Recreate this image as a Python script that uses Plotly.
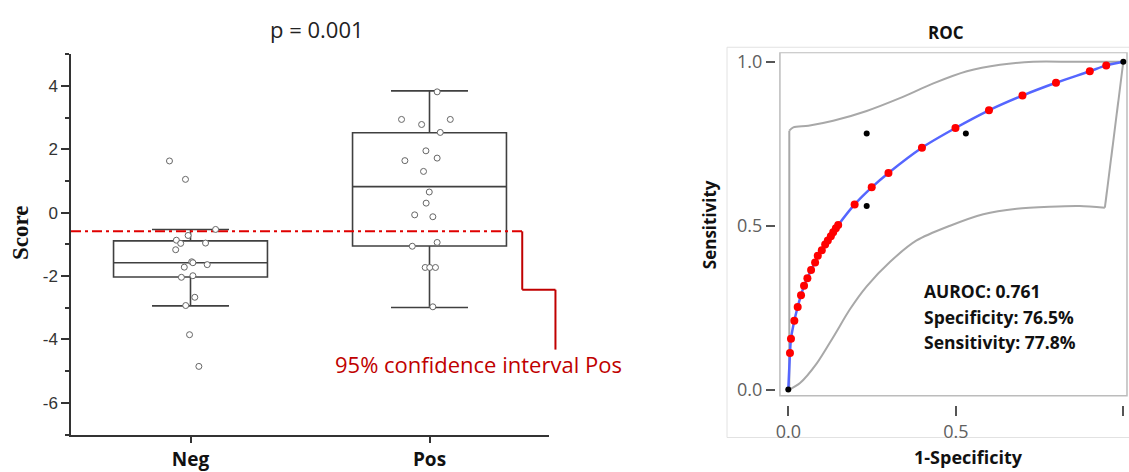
import plotly.graph_objects as go

# ---------------- data: left box plot ----------------
categories = ["Neg", "Pos"]
neg_scores = [1.63, 1.05, -0.53, -0.72, -0.87, -0.97, -0.96, -1.17, -1.55, -1.58,
              -1.64, -1.72, -2.04, -1.99, -2.67, -2.93, -3.85, -4.85]
neg_jitter = [-0.088, -0.021, 0.105, -0.010, -0.059, -0.041, 0.063, -0.062, 0.005, 0.010,
              0.070, -0.026, -0.038, 0.010, 0.018, -0.020, -0.004, 0.035]
pos_scores = [3.81, 2.94, 2.78, 2.94, 2.53, 1.95, 1.72, 1.64, 1.30, 0.65,
              0.30, -0.07, -0.13, -0.94, -1.06, -1.73, -1.73, -1.73, -2.97]
pos_jitter = [0.032, -0.117, -0.033, 0.087, 0.045, -0.015, 0.032, -0.103, -0.025, -0.001,
              -0.014, -0.062, 0.014, 0.032, -0.072, -0.018, 0.001, 0.025, 0.014]
box_q1 = [-2.03, -1.05]
box_median = [-1.58, 0.82]
box_q3 = [-0.89, 2.52]
box_lower = [-2.94, -2.99]
box_upper = [-0.53, 3.84]
ci_pos_lower = -0.59
score_ticks = [-6, -4, -2, 0, 2, 4]
score_ticktext = ["-6", "-4", "-2", "0", "2", "4"]
score_minor = [-7, -5, -3, -1, 1, 3, 5]
p_text = "p = 0.001"

# ---------------- data: ROC ----------------
roc_fpr = [0.005, 0.008, 0.018, 0.028, 0.038, 0.047, 0.057, 0.068, 0.080, 0.088,
           0.100, 0.110, 0.118, 0.127, 0.134, 0.142, 0.149, 0.198, 0.249, 0.299,
           0.399, 0.499, 0.599, 0.699, 0.799, 0.900, 0.949]
roc_tpr = [0.112, 0.155, 0.210, 0.252, 0.288, 0.317, 0.340, 0.365, 0.388, 0.408,
           0.425, 0.443, 0.455, 0.468, 0.480, 0.492, 0.502, 0.565, 0.617, 0.661,
           0.738, 0.798, 0.852, 0.897, 0.936, 0.971, 0.989]
black_fpr = [0.0, 1.0, 0.234, 0.530, 0.234]
black_tpr = [0.0, 1.0, 0.781, 0.781, 0.560]
band_upper_fpr = [0.003, 0.015, 0.06, 0.134, 0.234, 0.333, 0.433, 0.533, 0.632, 0.731, 0.85, 1.0]
band_upper_tpr = [0.79, 0.80, 0.805, 0.82, 0.85, 0.889, 0.934, 0.971, 0.991, 1.0, 1.0, 1.0]
band_lower_fpr = [0.003, 0.035, 0.085, 0.134, 0.184, 0.234, 0.304, 0.383, 0.483, 0.582, 0.682, 0.781, 0.87, 0.945]
band_lower_tpr = [0.0, 0.02, 0.08, 0.16, 0.245, 0.315, 0.39, 0.455, 0.50, 0.535, 0.552, 0.558, 0.56, 0.555]
roc_ticks = [0.0, 0.5, 1.0]
roc_ticktext = ["0.0", "0.5", "1.0"]
stats_lines = ["AUROC: 0.761", "Specificity: 76.5%", "Sensitivity: 77.8%"]

W, H = 1129, 472

# layout geometry (pixels)
L_X0, L_X1, L_Y0, L_Y1 = 71, 549, 52, 439
L_XR, L_YR = [-0.5, 1.5], [-7, 5]
R_X0, R_X1, R_Y0, R_Y1 = 776, 1129, 50, 409
R_XR, R_YR = [-0.0367, 1.017], [-0.0471, 1.0294]


def px_to_paper_x(px):
    return px / W


def px_to_paper_y(py):
    return 1 - py / H


def lx(v):  # left data x -> paper
    f = (v - L_XR[0]) / (L_XR[1] - L_XR[0])
    return px_to_paper_x(L_X0 + f * (L_X1 - L_X0))


def ly(v):  # left data y -> paper
    f = (v - L_YR[0]) / (L_YR[1] - L_YR[0])
    return px_to_paper_y(L_Y1 - f * (L_Y1 - L_Y0))


fig = go.Figure()

BOX_COL = "#404040"
for i, cat in enumerate(categories):
    fig.add_trace(go.Box(
        x=[i], q1=[box_q1[i]], median=[box_median[i]], q3=[box_q3[i]],
        lowerfence=[box_lower[i]], upperfence=[box_upper[i]], name=cat,
        boxpoints=False, width=0.644, whiskerwidth=0.5,
        line=dict(color=BOX_COL, width=1.6), fillcolor="rgba(255,255,255,0)",
        xaxis="x", yaxis="y", showlegend=False, hoverinfo="skip"))

# dash-dot CI line
fig.add_trace(go.Scatter(
    x=[-0.5, 1.388], y=[ci_pos_lower, ci_pos_lower], mode="lines",
    line=dict(color="#e00000", width=2, dash="10px,4px,3px,4px"),
    xaxis="x", yaxis="y", showlegend=False, hoverinfo="skip"))

# jittered points
for i, (vals, jit) in enumerate([(neg_scores, neg_jitter), (pos_scores, pos_jitter)]):
    fig.add_trace(go.Scatter(
        x=[i + j for j in jit], y=vals, mode="markers",
        marker=dict(symbol="circle", size=6, color="white",
                    line=dict(color="#666666", width=1)),
        xaxis="x", yaxis="y", showlegend=False, hoverinfo="skip", cliponaxis=False))

# ROC band
BAND = "#a8a8a8"
fig.add_trace(go.Scatter(x=band_upper_fpr, y=band_upper_tpr, mode="lines",
                         line=dict(color=BAND, width=2, shape="spline", smoothing=0.8),
                         xaxis="x2", yaxis="y2", showlegend=False, hoverinfo="skip"))
fig.add_trace(go.Scatter(x=band_lower_fpr, y=band_lower_tpr, mode="lines",
                         line=dict(color=BAND, width=2, shape="spline", smoothing=0.8),
                         xaxis="x2", yaxis="y2", showlegend=False, hoverinfo="skip"))
fig.add_trace(go.Scatter(x=[band_upper_fpr[0], band_lower_fpr[0]],
                         y=[band_upper_tpr[0], band_lower_tpr[0]], mode="lines",
                         line=dict(color=BAND, width=2),
                         xaxis="x2", yaxis="y2", showlegend=False, hoverinfo="skip"))
fig.add_trace(go.Scatter(x=[band_upper_fpr[-1], band_lower_fpr[-1]],
                         y=[band_upper_tpr[-1], band_lower_tpr[-1]], mode="lines",
                         line=dict(color=BAND, width=2),
                         xaxis="x2", yaxis="y2", showlegend=False, hoverinfo="skip"))

# ROC curve
fig.add_trace(go.Scatter(x=[0.0] + roc_fpr + [1.0], y=[0.0] + roc_tpr + [1.0], mode="lines",
                         line=dict(color="#5566ff", width=2.5, shape="spline", smoothing=0.6),
                         xaxis="x2", yaxis="y2", showlegend=False, hoverinfo="skip"))
fig.add_trace(go.Scatter(x=roc_fpr, y=roc_tpr, mode="markers",
                         marker=dict(color="#ff0000", size=8),
                         xaxis="x2", yaxis="y2", showlegend=False, hoverinfo="skip"))
fig.add_trace(go.Scatter(x=black_fpr, y=black_tpr, mode="markers",
                         marker=dict(color="#000000", size=6),
                         xaxis="x2", yaxis="y2", showlegend=False, hoverinfo="skip",
                         cliponaxis=False))

shapes = []
# leader line for CI annotation (paper coords from data)
lead = [(1.388, ci_pos_lower), (1.388, -2.43), (1.527, -2.43), (1.527, -4.32)]
for (a, b), (c, d) in zip(lead[:-1], lead[1:]):
    shapes.append(dict(type="line", xref="paper", yref="paper",
                       x0=lx(a), y0=ly(b), x1=lx(c), y1=ly(d),
                       line=dict(color="#c00000", width=2)))
# ROC outer light frame
shapes.append(dict(type="rect", xref="paper", yref="paper",
                   x0=px_to_paper_x(727), x1=1.05, y0=px_to_paper_y(442), y1=px_to_paper_y(45),
                   line=dict(color="#e2e2e2", width=1), layer="below"))
# ROC inner frame
shapes.append(dict(type="rect", xref="x2", yref="y2",
                   x0=-0.025, x1=1.011, y0=-0.0186, y1=1.028,
                   line=dict(color="#bcbcbc", width=1.5), layer="below"))

annotations = [
    dict(text=p_text, xref="paper", yref="paper", x=px_to_paper_x(317), y=px_to_paper_y(26),
         showarrow=False, font=dict(family="Open Sans", size=22, color="#222222"),
         xanchor="center", yanchor="middle"),
    dict(text="95% confidence interval Pos", xref="x", yref="y", x=1.205, y=-4.77,
         showarrow=False, font=dict(family="Open Sans", size=22, color="#c00000"),
         xanchor="center", yanchor="middle"),
    dict(text="<b>Score</b>", xref="paper", yref="paper", x=px_to_paper_x(20), y=px_to_paper_y(234),
         showarrow=False, textangle=-90,
         font=dict(family="Liberation Serif, Times New Roman, DejaVu Serif, serif",
                   size=23, color="#111111"),
         xanchor="center", yanchor="middle"),
    dict(text="<b>ROC</b>", xref="paper", yref="paper", x=px_to_paper_x(946), y=px_to_paper_y(30),
         showarrow=False, font=dict(family="Open Sans", size=17, color="#111111"),
         xanchor="center", yanchor="middle"),
    dict(text="<b>Sensitivity</b>", xref="paper", yref="paper", x=px_to_paper_x(709), y=px_to_paper_y(226),
         showarrow=False, textangle=-90, font=dict(family="Open Sans", size=17, color="#111111"),
         xanchor="center", yanchor="middle"),
    dict(text="<b>1-Specificity</b>", xref="paper", yref="paper", x=px_to_paper_x(968), y=px_to_paper_y(462),
         showarrow=False, font=dict(family="Open Sans", size=18, color="#111111"),
         xanchor="center", yanchor="middle"),
]
for k, line in enumerate(stats_lines):
    annotations.append(dict(text="<b>%s</b>" % line, xref="paper", yref="paper",
                            x=px_to_paper_x(922), y=px_to_paper_y(293 + 26 * k),
                            showarrow=False, font=dict(family="Open Sans", size=17.5, color="#111111"),
                            xanchor="left", yanchor="middle"))

fig.update_layout(
    width=W, height=H, margin=dict(l=0, r=0, t=0, b=0),
    paper_bgcolor="white", plot_bgcolor="rgba(0,0,0,0)",
    showlegend=False, shapes=shapes, annotations=annotations,
    xaxis=dict(domain=[px_to_paper_x(L_X0), px_to_paper_x(L_X1)], anchor="y",
               type="linear", range=L_XR, showgrid=False, zeroline=False,
               showline=True, linecolor="#333333", linewidth=1.5,
               ticks="outside", ticklen=7, tickwidth=1.5, tickcolor="#333333",
               tickfont=dict(family="Open Sans", size=19, color="#111111"),
               tickmode="array", tickvals=list(range(len(categories))),
               ticktext=["<b>%s</b>" % c for c in categories]),
    yaxis=dict(domain=[px_to_paper_y(L_Y1), px_to_paper_y(L_Y0)], anchor="x",
               range=L_YR, showgrid=False, zeroline=False,
               showline=True, linecolor="#333333", linewidth=1.5,
               ticks="outside", ticklen=8, tickwidth=1.5, tickcolor="#333333",
               tickmode="array", tickvals=score_ticks, ticktext=score_ticktext,
               tickfont=dict(family="Liberation Sans", size=17, color="#333333"),
               minor=dict(tickmode="array", tickvals=score_minor, ticks="outside",
                          ticklen=4, tickwidth=1.5, tickcolor="#333333")),
    xaxis2=dict(domain=[px_to_paper_x(R_X0), px_to_paper_x(R_X1)], anchor="y2",
                range=R_XR, showgrid=False, zeroline=False, showline=False,
                ticks="outside", ticklen=10, tickwidth=1.5, tickcolor="#555555",
                tickmode="array", tickvals=roc_ticks, ticktext=roc_ticktext,
                tickfont=dict(family="Open Sans", size=18, color="#606060")),
    yaxis2=dict(domain=[px_to_paper_y(R_Y1), px_to_paper_y(R_Y0)], anchor="x2",
                range=R_YR, showgrid=False, zeroline=False, showline=False,
                ticks="outside", ticklen=9, tickwidth=1.5, tickcolor="#555555",
                tickmode="array", tickvals=roc_ticks, ticktext=roc_ticktext,
                tickfont=dict(family="Open Sans", size=18, color="#606060")),
)

fig.write_html("out.html")
